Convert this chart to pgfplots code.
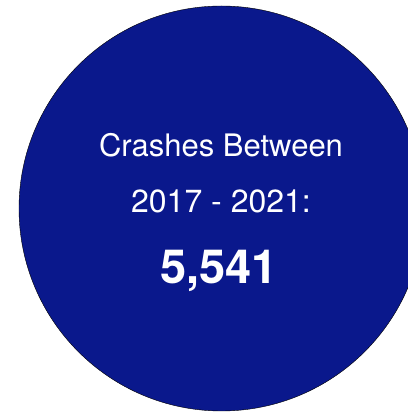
\documentclass[border=0pt]{standalone}
\usepackage{pgfplots}
\pgfplotsset{compat=1.18}
\usepackage{fontspec}
\setmainfont{TeX Gyre Heros}
\definecolor{navy}{RGB}{10,24,140}

\begin{document}
\begin{tikzpicture}
\begin{axis}[
  scale only axis,
  width=408bp, height=412bp,
  xmin=0, xmax=408, ymin=0, ymax=412,
  hide axis,
  clip mode=individual,
  clip marker paths=true,
]
% single total shown as a disc
\addplot[only marks, mark=*, mark size=202.5bp,
  mark options={fill=navy, draw=none}] coordinates {(221.5,203.5)};
\node[anchor=base, text=white, font=\fontsize{31bp}{36bp}\selectfont]
  at (axis cs:221,255) {Crashes Between};
\node[anchor=base, text=white, font=\fontsize{32bp}{36bp}\selectfont]
  at (axis cs:221,199) {2017 - 2021:};
\node[anchor=base, text=white, font=\fontsize{47bp}{52bp}\selectfont\bfseries]
  at (axis cs:219,128) {5,541};
\path (rel axis cs:0,0) coordinate (bl) (rel axis cs:1,1) coordinate (tr);
\end{axis}
\pgfresetboundingbox
\useasboundingbox (bl) rectangle (tr);
\end{tikzpicture}
\end{document}
